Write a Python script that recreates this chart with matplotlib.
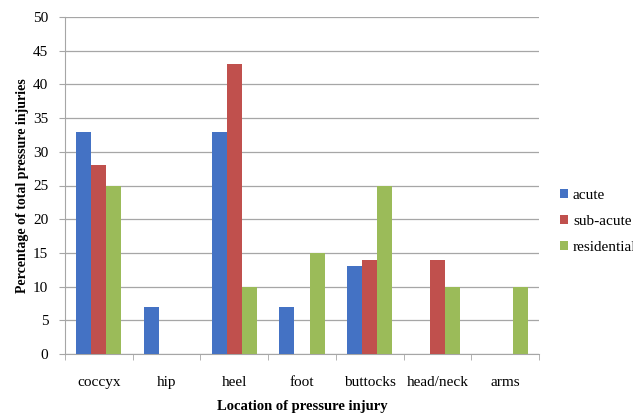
import matplotlib
matplotlib.use("Agg")
import matplotlib.pyplot as plt
import numpy as np

categories = ["coccyx", "hip", "heel", "foot", "buttocks", "head/neck", "arms"]
acute = [33, 7, 33, 7, 13, 0, 0]
sub_acute = [28, 0, 43, 0, 14, 14, 0]
residential = [25, 0, 10, 15, 25, 10, 10]
series_names = ["acute", "sub-acute", "residential"]
colors = ["#4472C4", "#C0504D", "#9BBB59"]

plt.rcParams['font.family'] = ['Liberation Serif', 'DejaVu Serif']

fig = plt.figure(figsize=(6.33, 4.16), dpi=100)
ax = fig.add_axes([65/633, 1-354/416, (539-65)/633, (354-17)/416])

x = np.arange(len(categories))
w = 0.222
for i, (vals, name, c) in enumerate(zip([acute, sub_acute, residential], series_names, colors)):
    ax.bar(x + (i-1)*w, vals, w, color=c, label=name, zorder=3)

ax.set_xlim(-0.5, len(categories)-0.5)
ax.set_ylim(0, 50)
ax.set_yticks(range(0, 51, 5))
ax.yaxis.grid(True, color="#a6a6a6", linewidth=0.9, zorder=0)
ax.set_xticks(x)
ax.set_xticklabels(categories, fontsize=11)
ax.set_xticks(np.arange(-0.5, len(categories), 1), minor=True)
ax.tick_params(axis='x', which='major', length=0, pad=16)
ax.tick_params(axis='x', which='minor', length=4, color="#a6a6a6")
ax.tick_params(axis='y', length=4, color="#a6a6a6", labelsize=11, pad=8)
for s in ["top", "right"]:
    ax.spines[s].set_visible(False)
for s in ["left", "bottom"]:
    ax.spines[s].set_color("#a6a6a6")

ax.set_ylabel("Percentage of total pressure injuries", fontsize=10, fontweight="bold", labelpad=3)
ax.set_xlabel("Location of pressure injury", fontsize=10.5, fontweight="bold", labelpad=8)

leg = fig.legend(loc="upper left", bbox_to_anchor=(560/633, 1-189/416), frameon=False,
                 fontsize=11, handlelength=0.5, handleheight=0.5, handletextpad=0.35,
                 labelspacing=0.85, borderaxespad=0, borderpad=0)

fig.savefig("out.png", dpi=100)
